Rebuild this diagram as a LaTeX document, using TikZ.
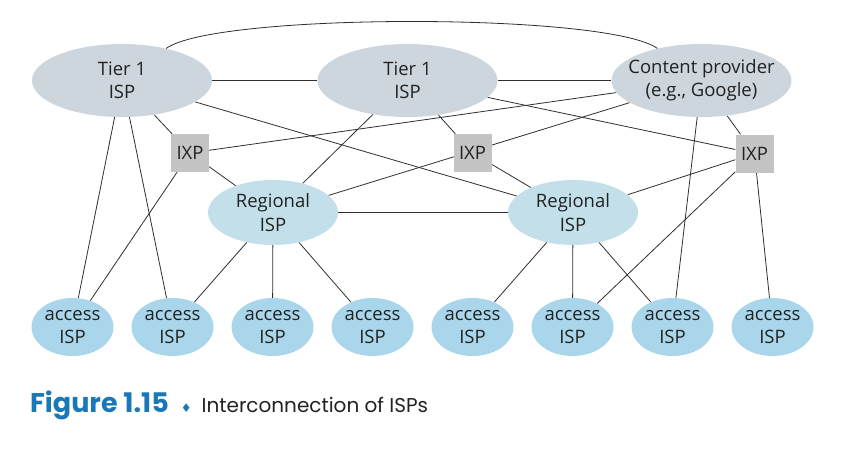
\documentclass[tikz,border=0pt]{standalone}
\usepackage{fontspec}
\setmainfont{Open Sans}
\newfontfamily\capfont{Poppins}
\newfontfamily\symfont{DejaVu Sans}
\usetikzlibrary{shapes.geometric,backgrounds}

\definecolor{tiergray}{HTML}{CDD6DC}
\definecolor{regblue}{HTML}{C3E0EA}
\definecolor{accblue}{HTML}{A9D6EA}
\definecolor{ixpgray}{HTML}{C4C4C4}
\definecolor{inktext}{HTML}{222222}
\definecolor{linkgray}{HTML}{2E2E2E}
\definecolor{figblue}{HTML}{1A78B6}

\tikzset{
  isptext/.style={align=center, text=inktext, font=\fontsize{18.5}{23.3}\selectfont},
  tierisp/.style={isptext, ellipse, fill=tiergray, inner sep=0pt, minimum width=180pt, minimum height=73pt},
  regisp/.style={isptext, ellipse, fill=regblue, inner sep=0pt, minimum width=130pt, minimum height=65pt},
  accisp/.style={isptext, ellipse, fill=accblue, inner sep=0pt, minimum width=82pt, minimum height=58pt},
  ixpbox/.style={isptext, rectangle, fill=ixpgray, inner sep=0pt, minimum size=38pt},
  link/.style={draw=linkgray, line width=0.8pt},
}
% zero-width line so long labels do not widen the ellipse
\newcommand{\flatline}[1]{\makebox[0pt]{#1}}

\begin{document}
\begin{tikzpicture}[x=1pt,y=1pt]
\useasboundingbox (0,0) rectangle (863,-448);

% top tier
\node[tierisp] (t1a) at (122,-80.5) {Tier 1\\ISP};
\node[tierisp] (t1b) at (407.5,-80.5) {Tier 1\\ISP};
\node[tierisp] (cp) at (701.5,-80.5) {\flatline{Content provider}\\\flatline{(e.g., Google)}};

% exchange points
\node[ixpbox] (ixa) at (190,-153) {IXP};
\node[ixpbox] (ixb) at (472.5,-153) {IXP};
\node[ixpbox] (ixc) at (754.5,-153.5) {IXP};

% regional tier
\node[regisp] (rega) at (273,-212.5) {Regional\\ISP};
\node[regisp] (regb) at (573,-212.5) {Regional\\ISP};

% access tier
\foreach \i in {1,...,8}
  \node[accisp] (acc\i) at ({72.5+100*(\i-1)},-327) {access\\ISP};

\begin{scope}[on background layer]
  % peering among the top tier
  \draw[link] (t1a) -- (t1b);
  \draw[link] (t1b) -- (cp);
  \draw[link] (t1a.36) .. controls +(49,36) and +(-49,36) .. (cp.144);
  % links through the exchange points
  \draw[link] (t1a) -- (ixa);
  \draw[link] (ixa) -- (cp);
  \draw[link] (ixa) -- (rega);
  \draw[link] (ixa) -- (acc1);
  \draw[link] (t1b) -- (ixb);
  \draw[link] (rega) -- (cp);
  \draw[link] (ixb) -- (regb);
  \draw[link] (t1b) -- (ixc);
  \draw[link] (cp) -- (ixc);
  \draw[link] (ixc) -- (regb);
  \draw[link] (ixc) -- (acc6);
  \draw[link] (ixc) -- (acc8);
  % provider to customer links
  \draw[link] (t1a) -- (regb);
  \draw[link] (t1a) -- (acc1);
  \draw[link] (t1a) -- (acc2);
  \draw[link] (t1b) -- (rega);
  \draw[link] (cp) -- (acc7);
  \draw[link] (rega) -- (regb);
  \draw[link] (rega) -- (acc2);
  \draw[link] (rega) -- (acc3);
  \draw[link] (rega) -- (acc4);
  \draw[link] (regb) -- (acc5);
  \draw[link] (regb) -- (acc6);
  \draw[link] (regb) -- (acc7);
\end{scope}

% caption
\node[anchor=base west, inner sep=0pt] (cap) at (30,-412)
  {\capfont\fontsize{27}{30}\selectfont\textcolor{figblue}{\bfseries Figure 1.15}\hspace{12pt}\textcolor{figblue}{\symfont\fontsize{12}{14}\selectfont ♦}\hspace{10pt}\textcolor{inktext}{\fontsize{20}{24}\selectfont Interconnection of ISPs}};
\end{tikzpicture}
\end{document}
